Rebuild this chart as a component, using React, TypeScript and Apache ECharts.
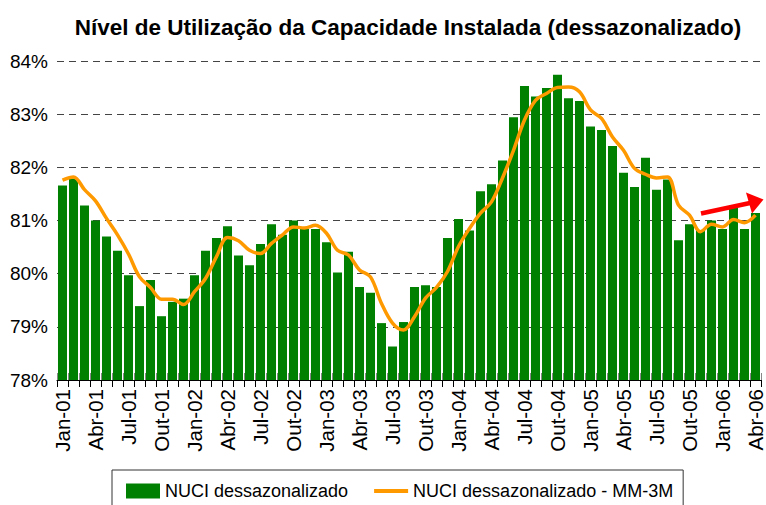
import React, { useEffect, useRef } from "react";
import * as echarts from "echarts";

const FONT = "'Liberation Sans', Arial, Helvetica, sans-serif";

const TITLE = "Nível de Utilização da Capacidade Instalada (dessazonalizado)";
const SERIES_BAR = "NUCI dessazonalizado";
const SERIES_LINE = "NUCI dessazonalizado - MM-3M";

const monthNames = ["Jan", "Fev", "Mar", "Abr", "Mai", "Jun", "Jul", "Ago", "Set", "Out", "Nov", "Dez"];
const yearLabels = ["01", "02", "03", "04", "05", "06"];
const monthsInLastYear = 4;

const categories: string[] = [];
yearLabels.forEach((y, yi) => {
  monthNames.forEach((m, mi) => {
    if (yi < yearLabels.length - 1 || mi < monthsInLastYear) categories.push(`${m}-${y}`);
  });
});

// NUCI dessazonalizado (%), Jan-01 .. Abr-06
const nuci = [
  81.66, 81.79, 81.28, 81.0, 80.7, 80.43, 79.97, 79.39, 79.88, 79.2, 79.47, 79.53,
  79.97, 80.43, 80.67, 80.89, 80.34, 80.16, 80.56, 80.93, 80.73, 81.0, 80.84, 80.84,
  80.59, 80.02, 80.41, 79.75, 79.64, 79.07, 78.63, 79.09, 79.75, 79.78, 79.75, 80.67,
  81.03, 80.81, 81.55, 81.68, 82.13, 82.94, 83.53, 83.33, 83.49, 83.74, 83.3, 83.25,
  82.77, 82.7, 82.4, 81.9, 81.63, 82.18, 81.58, 81.77, 80.63, 80.93, 80.82, 81.0,
  80.84, 81.28, 80.84, 81.14,
];

// NUCI dessazonalizado - média móvel 3 meses (%), as drawn
const nuciMM3 = [
  81.76, 81.82, 81.58, 81.37, 81.04, 80.73, 80.37, 79.94, 79.74, 79.52, 79.52, 79.42,
  79.66, 79.91, 80.32, 80.68, 80.62, 80.44, 80.38, 80.57, 80.73, 80.88, 80.86, 80.91,
  80.76, 80.44, 80.35, 80.07, 79.94, 79.44, 79.07, 78.94, 79.19, 79.54, 79.74, 80.04,
  80.51, 80.85, 81.14, 81.35, 81.8, 82.32, 82.89, 83.26, 83.39, 83.5, 83.51, 83.42,
  83.08, 82.92, 82.57, 82.32, 81.98, 81.87, 81.8, 81.82, 81.29, 81.1, 80.79, 80.93,
  80.88, 81.02, 80.96, 81.1,
];

const yMin = 78;
const yMax = 84;
const yStep = 1;

export default function App() {
  const ref = useRef<HTMLDivElement>(null);

  useEffect(() => {
    document.body.style.margin = "0";
    if (!ref.current) return;
    const chart = echarts.init(ref.current, undefined, { renderer: "svg" });

    chart.setOption({
      animation: false,
      backgroundColor: "#ffffff",
      textStyle: { fontFamily: FONT },
      grid: { left: 57, right: 5, top: 61, bottom: 125, containLabel: false },
      legend: {
        left: 112,
        top: 470,
        padding: [12, 10, 30, 14],
        borderColor: "#333333",
        borderWidth: 1,
        itemWidth: 34,
        itemHeight: 15,
        itemGap: 26,
        textStyle: { fontSize: 18, color: "#000000", fontFamily: FONT },
        data: [
          { name: SERIES_BAR, icon: "rect" },
          { name: SERIES_LINE, icon: "path://M0,0 L34,0 L34,4 L0,4 Z", itemStyle: { color: "#FF9900" } },
        ],
      },
      xAxis: [
        {
          type: "category",
          data: categories,
          boundaryGap: true,
          axisLine: { show: true, lineStyle: { color: "#000000", width: 1 } },
          axisTick: { show: true, interval: 0, length: 7, lineStyle: { color: "#000000" } },
          axisLabel: {
            interval: 2,
            rotate: 90,
            fontSize: 20.5,
            color: "#000000",
            margin: 9,
            fontFamily: FONT,
          },
          splitLine: { show: false },
        },
        {
          type: "category",
          data: categories,
          position: "bottom",
          boundaryGap: true,
          axisLine: { show: false },
          axisTick: { show: true, inside: true, interval: 0, length: 7, lineStyle: { color: "#888888" } },
          axisLabel: { show: false },
          splitLine: { show: false },
        },
      ],
      yAxis: {
        type: "value",
        min: yMin,
        max: yMax,
        interval: yStep,
        axisLine: { show: false },
        axisTick: { show: false },
        axisLabel: {
          formatter: "{value}%",
          fontSize: 19,
          color: "#000000",
          margin: 9,
          fontFamily: FONT,
        },
        splitLine: { show: true, lineStyle: { color: "#444444", width: 1, type: [7, 5] } },
      },
      series: [
        {
          name: SERIES_BAR,
          type: "bar",
          data: nuci,
          barCategoryGap: "18%",
          itemStyle: { color: "#008000" },
          z: 2,
        },
        {
          name: SERIES_LINE,
          type: "line",
          data: nuciMM3,
          smooth: 0.35,
          symbol: "none",
          showSymbol: false,
          lineStyle: { color: "#FF9900", width: 3.5 },
          itemStyle: { color: "#FF9900" },
          z: 3,
        },
      ],
      graphic: [
        {
          type: "text",
          x: 408,
          y: 27,
          style: {
            text: TITLE,
            fill: "#000000",
            font: `bold 22.5px ${FONT}`,
            align: "center",
            verticalAlign: "middle",
          },
        },
        {
          type: "line",
          shape: { x1: 701, y1: 213.5, x2: 750, y2: 203 },
          style: { stroke: "#FF0000", lineWidth: 4.5 },
          z: 10,
        },
        {
          type: "polygon",
          shape: { points: [[746, 192.5], [763.5, 199.5], [752, 213.5]] },
          style: { fill: "#FF0000" },
          z: 10,
        },
      ],
    });

    return () => chart.dispose();
  }, []);

  return <div ref={ref} style={{ width: 766, height: 505 }} />;
}
